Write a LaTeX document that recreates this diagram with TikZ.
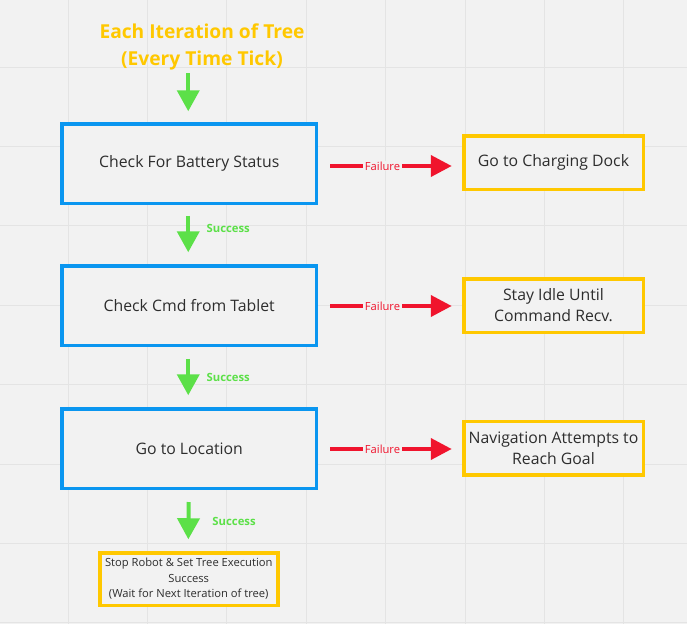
\documentclass[tikz,border=0pt]{standalone}
\usepackage{fontspec}
\setmainfont{Open Sans}
\usetikzlibrary{arrows.meta}
\definecolor{bg}{RGB}{242,242,242}
\definecolor{gridc}{RGB}{228,228,228}
\definecolor{bblue}{RGB}{10,150,240}
\definecolor{ygold}{RGB}{255,200,0}
\definecolor{sgreen}{RGB}{92,224,72}
\definecolor{fred}{RGB}{240,20,45}
\definecolor{txt}{RGB}{45,45,45}
\begin{document}
\begin{tikzpicture}[x=1pt,y=1pt,
 bluebox/.style={draw=bblue, line width=3.5pt, fill=bg, minimum width=254.5pt, minimum height=79.5pt, inner sep=0pt, font=\fontsize{15.8}{21}\selectfont, text=txt, align=center},
 yellowbox/.style={draw=ygold, line width=3.5pt, fill=bg, minimum width=179.5pt, minimum height=53.5pt, inner sep=0pt, font=\fontsize{15.8}{21}\selectfont, text=txt, align=center},
 succ/.style={draw=sgreen, line width=4pt, -{Triangle[width=22pt,length=21pt]}},
 fail/.style={draw=fred, line width=4pt, -{Triangle[width=21pt,length=21pt]}},
 slabel/.style={font=\fontsize{11.3}{13}\selectfont\bfseries, text=sgreen, anchor=west, inner sep=0pt},
 flabel/.style={font=\fontsize{11.2}{13}\selectfont, text=fred, fill=bg, inner xsep=2pt, inner ysep=1pt}
]
\fill[bg] (0,0) rectangle (687,-624);
\useasboundingbox (0,0) rectangle (687,-624);
\foreach \i in {0,...,7} {
  \draw[gridc, line width=1pt] ({68+79.4*\i},0) -- ({68+79.4*\i},-624);
  \draw[gridc, line width=1pt] (0,{-67-79.4*\i}) -- (687,{-67-79.4*\i});
}
\node[font=\fontsize{19.2}{27}\selectfont\bfseries, text=ygold, align=center] (title) at (202,-46.5) {Each Iteration of Tree\\(Every Time Tick)};

\node[bluebox] (b1) at (189.25,-163.5) {Check For Battery Status};
\node[bluebox] (b2) at (189.25,-305.5) {Check Cmd from Tablet};
\node[bluebox] (b3) at (189.25,-448.5) {Go to Location};

\node[yellowbox] (y1) at (553.5,-162.5) {Go to Charging Dock};
\node[yellowbox] (y2) at (553.5,-305.5) {Stay Idle Until\\Command Recv.};
\node[yellowbox] (y3) at (553.5,-448) {Navigation Attempts to\\Reach Goal};
\node[yellowbox, minimum width=178pt, minimum height=52.5pt, font=\fontsize{11.2}{15.5}\selectfont] (stop) at (188.75,-579) {Stop Robot \& Set Tree Execution\\Success\\(Wait for Next Iteration of tree)};

\coordinate (t0) at (188.25,-73);
\draw[succ, shorten >=10.75pt] (t0) -- (t0 |- b1.north);

\draw[succ, shorten <=10.75pt, shorten >=11.75pt] ([xshift=-1pt]b1.south) -- ([xshift=-1pt]b2.north) node[slabel, pos=0.395, xshift=16.4pt] {Success};
\draw[succ, shorten <=11.75pt, shorten >=11.75pt] ([xshift=-1pt]b2.south) -- ([xshift=-1pt]b3.north) node[slabel, pos=0.5, xshift=16.4pt] {Success};
\draw[succ, shorten <=12pt, shorten >=11.75pt] ([xshift=-0.5pt]b3.south) -- ([xshift=-0.5pt]stop.north) node[slabel, pos=0.51, xshift=22pt] {Success};

\draw[fail, shorten <=11.85pt, shorten >=10.25pt] ([yshift=-2.5pt]b1.east) -- ([yshift=-2.5pt]b1.east -| y1.west) node[flabel, pos=0.447] {Failure};
\draw[fail, shorten <=11.85pt, shorten >=10.25pt] ([yshift=-0.5pt]b2.east) -- ([yshift=-0.5pt]y2.west) node[flabel, pos=0.447] {Failure};
\draw[fail, shorten <=11.85pt, shorten >=10.25pt] ([yshift=-0.5pt]b3.east) -- ([yshift=-0.5pt]y3.west |- b3.east) node[flabel, pos=0.447] {Failure};
\end{tikzpicture}
\end{document}
